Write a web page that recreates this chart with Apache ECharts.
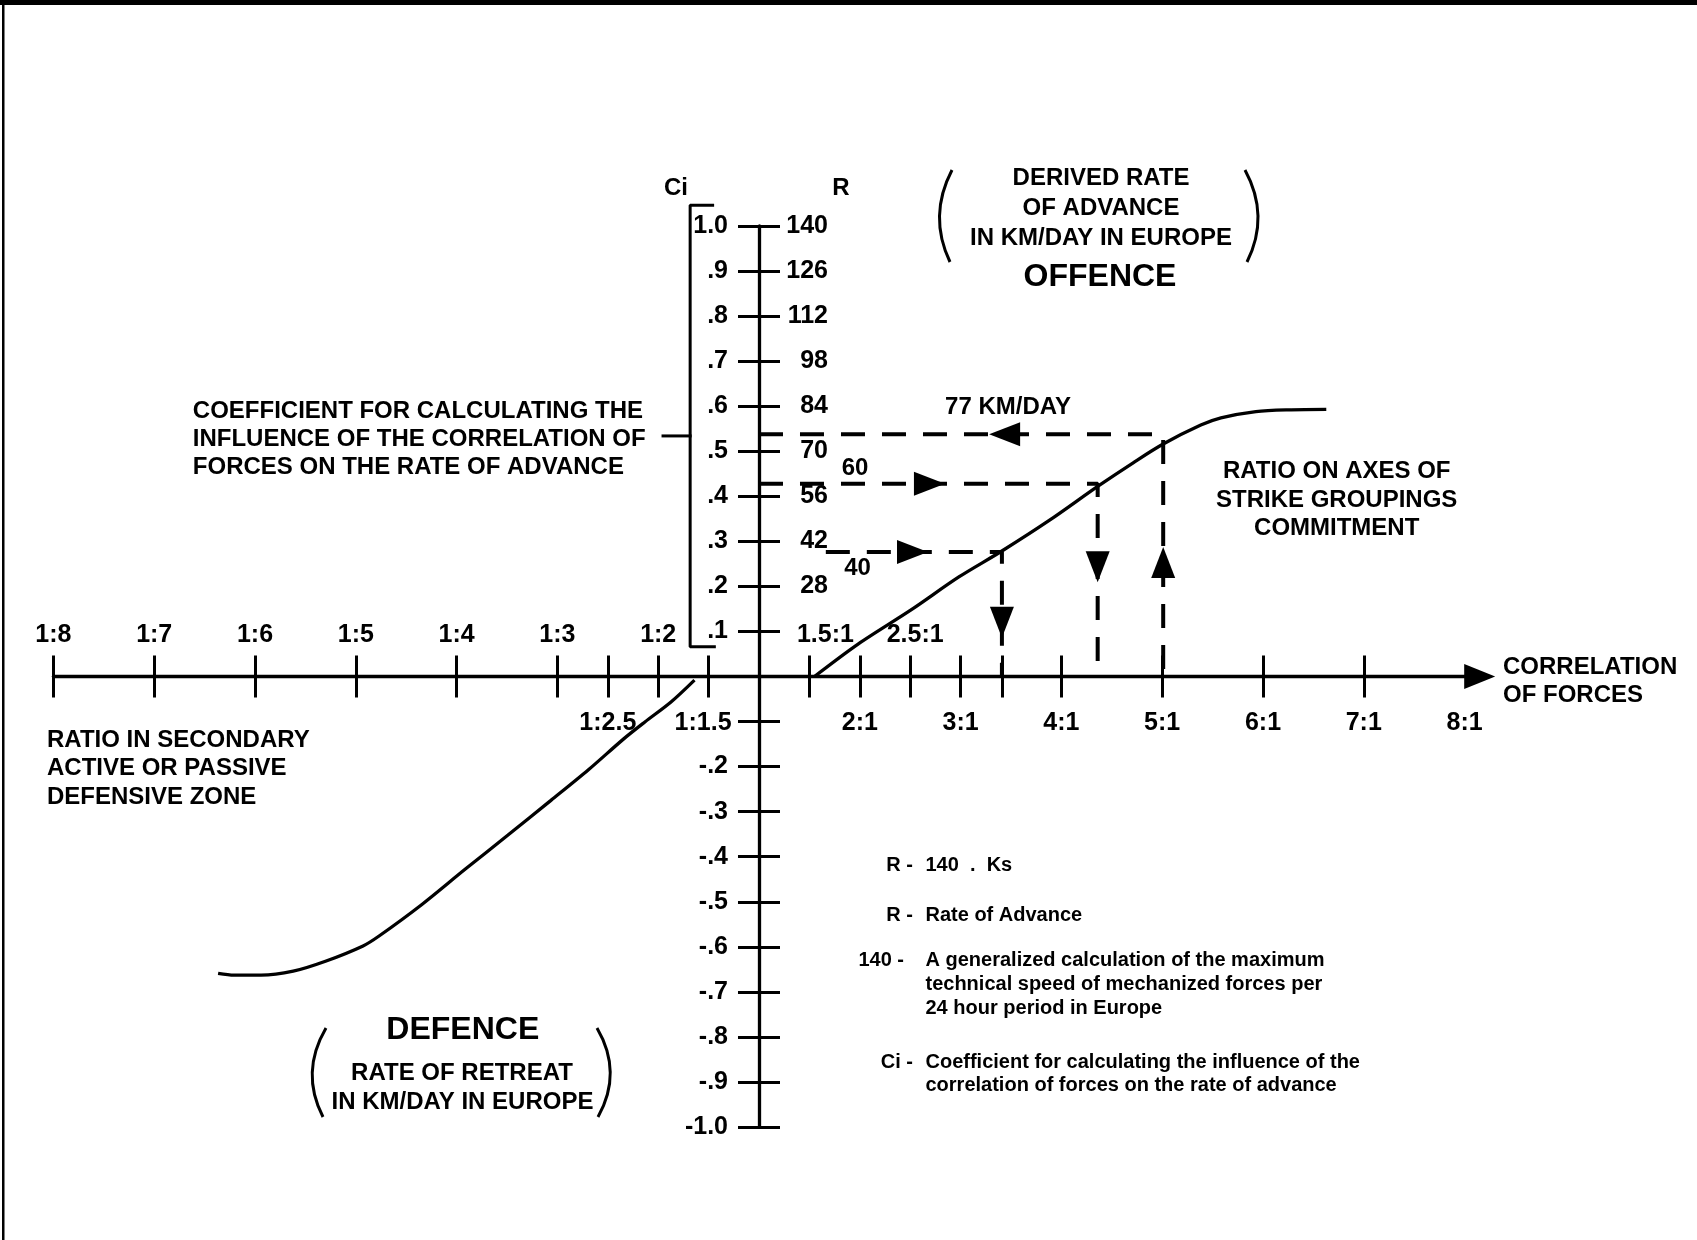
<!DOCTYPE html>
<html><head><meta charset="utf-8">
<script src="https://cdn.jsdelivr.net/npm/echarts@6/dist/echarts.min.js"></script>
<style>html,body{margin:0;padding:0;background:#fff}#c{width:1697px;height:1240px}</style>
</head><body><div id="c"></div>
<script>
// ---------- DATA ----------
// x axis unit: ratio k:1 -> k-1, ratio 1:k -> -(k-1)
const ratioTopPos = [-7, -6, -5, -4, -3, -2, -1, 0.5, 1.5];
const ratioTopText = ['1:8', '1:7', '1:6', '1:5', '1:4', '1:3', '1:2', '1.5:1', '2.5:1'];
const ratioBottomPos = [-1.5, -0.5, 1, 2, 3, 4, 5, 6, 7];
const ratioBottomText = ['1:2.5', '1:1.5', '2:1', '3:1', '4:1', '5:1', '6:1', '7:1', '8:1'];
const ratioTickPos = [-7, -6, -5, -4, -3, -2, -1.5, -1, -0.5, 0.5, 1, 1.5, 2, 2.41, 3, 4, 5, 6];

const ciTickVals = [1, 0.9, 0.8, 0.7, 0.6, 0.5, 0.4, 0.3, 0.2, 0.1, -0.1, -0.2, -0.3, -0.4, -0.5, -0.6, -0.7, -0.8, -0.9, -1];
const ciLabelVals = [1, 0.9, 0.8, 0.7, 0.6, 0.5, 0.4, 0.3, 0.2, 0.1, -0.2, -0.3, -0.4, -0.5, -0.6, -0.7, -0.8, -0.9, -1];
const ciLabelText = ['1.0', '.9', '.8', '.7', '.6', '.5', '.4', '.3', '.2', '.1', '-.2', '-.3', '-.4', '-.5', '-.6', '-.7', '-.8', '-.9', '-1.0'];
const rLabelVals = [1, 0.9, 0.8, 0.7, 0.6, 0.5, 0.4, 0.3, 0.2];
const rLabelText = ['140', '126', '112', '98', '84', '70', '56', '42', '28'];

// curves [ratio position, Ci]
const offenceCurve = [[0.55, 0], [0.983, 0.072], [1.516, 0.149], [1.983, 0.221], [2.406, 0.278], [2.883, 0.347],
  [3.36, 0.422], [3.716, 0.475], [4.01, 0.516], [4.383, 0.558], [4.583, 0.574], [4.93, 0.588], [5.279, 0.592], [5.628, 0.593]];
const defenceCurve = [[-0.64, -0.008], [-0.87, -0.056], [-1.132, -0.101], [-1.345, -0.139], [-1.692, -0.207], [-2.064, -0.275],
  [-2.49, -0.352], [-2.916, -0.428], [-3.344, -0.506], [-3.769, -0.576], [-3.928, -0.598], [-4.301, -0.632], [-4.621, -0.654],
  [-4.94, -0.663], [-5.207, -0.663], [-5.366, -0.659]];

// dashed reading routes
const route77 = [[0, 0.538], [4.01, 0.538], [4.01, 0]];
const route60 = [[0, 0.428], [3.36, 0.428], [3.36, 0]];
const route40 = [[0.663, 0.2766], [2.41, 0.2766], [2.41, 0]];
const routeArrows = [
  {value: [2.437, 0.538], dir: 'left'},
  {value: [1.691, 0.428], dir: 'right'},
  {value: [1.523, 0.2766], dir: 'right'},
  {value: [2.41, 0.1205], dir: 'down'},
  {value: [3.36, 0.2436], dir: 'down'},
  {value: [4.01, 0.253], dir: 'up'}
];
const ciBracket = [[-0.46, 1.046], [-0.683, 1.046], [-0.683, 0.066], [-0.443, 0.066]];
const ciBracketStem = [[-0.683, 0.534], [-0.952, 0.534]];

// ---------- LAYOUT ----------
const X_MIN = -7, X_MAX = 7.15, Y_MIN = -1, Y_MAX = 1;
const L = {left: 53.4, top: 226, width: 1426.3, height: 901};
const zeroX = L.left + (0 - X_MIN) / (X_MAX - X_MIN) * L.width;
const zeroY = L.top + (Y_MAX - 0) / (Y_MAX - Y_MIN) * L.height;
const FONT = '"Liberation Sans", Arial, Helvetica, sans-serif';
const BLACK = '#000';
const TICK_FS = 25;

function pick(vals, texts, v) {
  for (let i = 0; i < vals.length; i++) if (Math.abs(vals[i] - v) < 1e-6) return texts[i];
  return '';
}
const labelShift = {'1.5:1': 'sr', '2.5:1': 'sr2', '1:1.5': 'sl'};
const baseLbl = {color: BLACK, fontFamily: FONT, fontWeight: 'bold', fontSize: TICK_FS};
const rich = {
  sr: Object.assign({padding: [0, 0, 0, 32]}, baseLbl),
  sr2: Object.assign({padding: [0, 0, 0, 10]}, baseLbl),
  sl: Object.assign({padding: [0, 11, 0, 0]}, baseLbl),
  n: Object.assign({}, baseLbl)
};
function ratioFmt(vals, texts) {
  return function (v) {
    const t = pick(vals, texts, v);
    const s = labelShift[t] || 'n';
    return '{' + s + '|' + t + '}';
  };
}

const axisCommon = {
  type: 'value', splitLine: {show: false}, axisPointer: {show: false},
  axisLine: {onZero: false}
};

const xAxes = [
  Object.assign({}, axisCommon, {
    min: X_MIN, max: X_MAX, position: 'bottom', offset: -(L.top + L.height - zeroY),
    axisLine: {show: true, onZero: false, symbol: ['none', 'triangle'], symbolSize: [25, 31],
      lineStyle: {color: BLACK, width: 3.3}},
    axisTick: {show: true, customValues: ratioTickPos, length: 21, inside: false, lineStyle: {color: BLACK, width: 3}},
    axisLabel: Object.assign({customValues: ratioBottomPos, formatter: ratioFmt(ratioBottomPos, ratioBottomText),
      margin: 34, hideOverlap: false, rich: rich}, baseLbl)
  }),
  Object.assign({}, axisCommon, {
    min: X_MIN, max: X_MAX, position: 'top', offset: -(zeroY - L.top),
    axisLine: {show: false, onZero: false},
    axisTick: {show: true, customValues: ratioTickPos, length: 21, inside: false, lineStyle: {color: BLACK, width: 3}},
    axisLabel: Object.assign({customValues: ratioTopPos, formatter: ratioFmt(ratioTopPos, ratioTopText),
      margin: 29, hideOverlap: false, rich: rich}, baseLbl)
  })
];
const yAxes = [
  Object.assign({}, axisCommon, {
    min: Y_MIN, max: Y_MAX, position: 'left', offset: -(zeroX - L.left),
    axisLine: {show: true, onZero: false, lineStyle: {color: BLACK, width: 3.3}},
    axisTick: {show: true, customValues: ciTickVals, length: 21, inside: false, lineStyle: {color: BLACK, width: 3}},
    axisLabel: Object.assign({customValues: ciLabelVals, formatter: v => pick(ciLabelVals, ciLabelText, v),
      margin: 31, hideOverlap: false}, baseLbl)
  }),
  Object.assign({}, axisCommon, {
    min: Y_MIN, max: Y_MAX, position: 'right', offset: -(L.left + L.width - zeroX),
    axisLine: {show: false, onZero: false},
    axisTick: {show: true, customValues: ciTickVals, length: 21, inside: false, lineStyle: {color: BLACK, width: 3}},
    axisLabel: Object.assign({customValues: rLabelVals, formatter: v => pick(rLabelVals, rLabelText, v),
      margin: 69, align: 'right', hideOverlap: false}, baseLbl)
  })
];

function solid(data, w) {
  return {type: 'line', data: data, smooth: 0.3, showSymbol: false, symbol: 'none', clip: false, silent: true,
    lineStyle: {color: BLACK, width: w}, z: 5};
}
function dashed(data) {
  return {type: 'line', data: data, smooth: false, showSymbol: false, symbol: 'none', clip: false, silent: true,
    lineStyle: {color: BLACK, width: 4, type: [24, 17]}, z: 4};
}
function poly(data, w) {
  return {type: 'line', data: data, smooth: false, showSymbol: false, symbol: 'none', clip: false, silent: true,
    lineStyle: {color: BLACK, width: w, cap: 'square'}, z: 5};
}
const rot = {up: 0, left: 90, down: 180, right: -90};

function txt(text, x, y, size, align, extra) {
  return Object.assign({type: 'text', silent: true, style: {text: text, x: x, y: y, fill: BLACK,
    font: 'bold ' + size + 'px ' + FONT, textAlign: align || 'center', textVerticalAlign: 'middle'}}, extra || {});
}
function paren(x0, y0, cx, x1, y1) {
  return {type: 'bezierCurve', silent: true, shape: {x1: x0, y1: y0, x2: x1, y2: y1, cpx1: cx, cpy1: (y0 + y1) / 2},
    style: {stroke: BLACK, lineWidth: 3, fill: null}};
}

const graphics = [
  {type: 'rect', silent: true, shape: {x: 0, y: 0, width: 1697, height: 5}, style: {fill: BLACK}},
  {type: 'rect', silent: true, shape: {x: 2, y: 0, width: 2.5, height: 1240}, style: {fill: BLACK}},
  txt('Ci', 676, 188.5, 24),
  txt('R', 841, 188.5, 24),
  txt('DERIVED RATE', 1101, 178.5, 24),
  txt('OF ADVANCE', 1101, 208.5, 24),
  txt('IN KM/DAY IN EUROPE', 1101, 238.3, 24),
  txt('OFFENCE', 1100, 277, 32),
  paren(952, 170, 928, 950, 262),
  paren(1245, 170, 1270, 1247, 262),
  txt('COEFFICIENT FOR CALCULATING THE', 192.8, 411, 24, 'left'),
  txt('INFLUENCE OF THE CORRELATION OF', 192.8, 439, 24, 'left'),
  txt('FORCES ON THE RATE OF ADVANCE', 192.8, 467, 24, 'left'),
  txt('77 KM/DAY', 1008, 407, 24),
  txt('60', 855, 468.3, 24),
  txt('40', 857.5, 568.3, 24),
  txt('RATIO ON AXES OF', 1336.7, 471, 24),
  txt('STRIKE GROUPINGS', 1336.7, 500, 24),
  txt('COMMITMENT', 1336.7, 528.8, 24),
  txt('CORRELATION', 1503, 667, 24, 'left'),
  txt('OF FORCES', 1503, 695.5, 24, 'left'),
  txt('RATIO IN SECONDARY', 47, 740, 24, 'left'),
  txt('ACTIVE OR PASSIVE', 47, 768.6, 24, 'left'),
  txt('DEFENSIVE ZONE', 47, 797.7, 24, 'left'),
  txt('DEFENCE', 462.8, 1030.5, 32),
  txt('RATE OF RETREAT', 462, 1073.3, 24),
  txt('IN KM/DAY IN EUROPE', 462.5, 1102.5, 24),
  paren(326, 1028, 300, 323, 1117),
  paren(597, 1028, 623, 598, 1117),
  txt('R -', 913, 865.5, 20, 'right'),
  txt('140  .  Ks', 925.5, 865.5, 20, 'left'),
  txt('R -', 913, 915, 20, 'right'),
  txt('Rate of Advance', 925.5, 915, 20, 'left'),
  txt('140 -', 904, 960, 20, 'right'),
  txt('A generalized calculation of the maximum', 925.5, 960, 20, 'left'),
  txt('technical speed of mechanized forces per', 925.5, 984, 20, 'left'),
  txt('24 hour period in Europe', 925.5, 1008, 20, 'left'),
  txt('Ci -', 913, 1062, 20, 'right'),
  txt('Coefficient for calculating the influence of the', 925.5, 1062, 20, 'left'),
  txt('correlation of forces on the rate of advance', 925.5, 1085.5, 20, 'left')
];

const chart = echarts.init(document.getElementById('c'), null, {renderer: 'canvas'});
chart.setOption({
  animation: false,
  backgroundColor: '#fff',
  grid: {left: L.left, top: L.top, width: L.width, height: L.height, containLabel: false, outerBoundsMode: 'none'},
  xAxis: xAxes,
  yAxis: yAxes,
  series: [
    solid(offenceCurve, 3.3),
    solid(defenceCurve, 3.3),
    dashed(route77),
    dashed(route60),
    dashed(route40),
    {type: 'scatter', silent: true, z: 6, symbol: 'triangle', symbolSize: [24, 31], clip: false,
      itemStyle: {color: BLACK, opacity: 1},
      data: routeArrows.map(a => ({value: a.value, symbolRotate: rot[a.dir]}))},
    poly(ciBracket, 3),
    poly(ciBracketStem, 3)
  ],
  graphic: graphics
});
</script></body></html>
